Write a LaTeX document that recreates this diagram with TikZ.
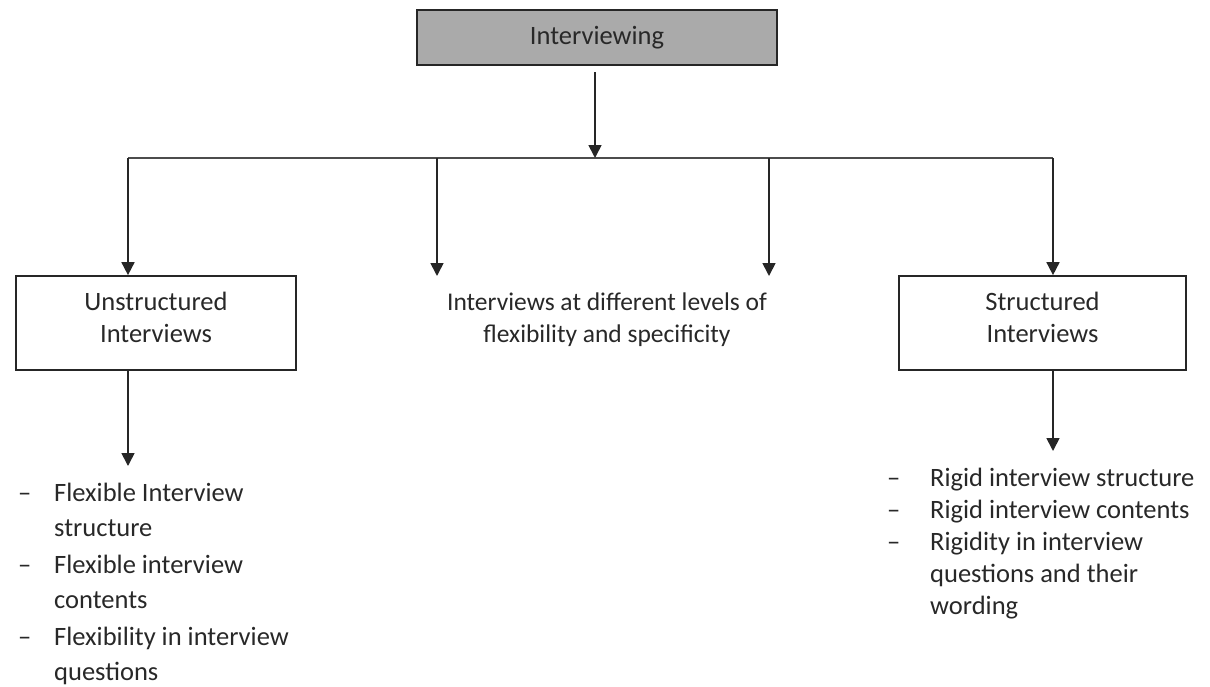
\documentclass[tikz,border=0pt]{standalone}
\usepackage{fontspec}
\setmainfont{Carlito}
\usetikzlibrary{arrows.meta}
\definecolor{boxgray}{RGB}{170,170,170}
\definecolor{txt}{RGB}{40,40,40}
\newcommand{\lines}[1]{\begin{tabular}[t]{@{}l@{}}#1\end{tabular}}
\newcommand{\boxlines}[1]{\raisebox{0pt}[\height][\dimexpr\depth+6pt\relax]{\begin{tabular}{@{}c@{}}#1\end{tabular}}}
\begin{document}
\begin{tikzpicture}[x=1pt,y=-1pt,
  every node/.style={font=\fontsize{26.5}{32}\selectfont, text=txt},
  box/.style={draw=black!85, line width=1.7pt, minimum height=94pt, align=center, inner sep=0pt},
  arr/.style={line width=1.7pt, draw=black!85, -{Triangle[width=13pt,length=13pt]}},
  ln/.style={line width=1.7pt, draw=black!70},
  dashnode/.style={anchor=base west, inner sep=0pt},
  item/.style={anchor=base west, inner sep=0pt},
  litem/.style={anchor=base west, inner sep=0pt, font=\fontsize{26.5}{35}\selectfont}
]
\useasboundingbox (0,0) rectangle (1210,686);

% top
\node[box, fill=boxgray, minimum width=360pt, minimum height=55pt] (top) at (597,37.5) {Interviewing};

% branch line
\coordinate (h1) at (128,158);
\coordinate (h2) at (437,158);
\coordinate (h3) at (769,158);
\coordinate (h4) at (1053,158);
\coordinate (hc) at (595,158);
\draw[ln] (h1) -- (h4);
\coordinate (ts) at (595,72);
\draw[arr] (ts) -- (hc);

% boxes
\node[box, minimum width=280pt] (uns) at (156,323) {\boxlines{Unstructured\\Interviews}};
\node[box, minimum width=287pt] (str) at (1042.5,323) {\boxlines{Structured\\Interviews}};
\node[inner sep=0pt, align=center, font=\fontsize{25.5}{32}\selectfont] (mid) at (607,320) {Interviews at different levels of\\flexibility and specificity};
\coordinate (m1) at (437,276);
\coordinate (m2) at (769,276);

\draw[arr] (h1) -- (h1 |- uns.north);
\draw[arr] (h4) -- (h4 |- uns.north);
\draw[arr] (h2) -- (m1);
\draw[arr] (h3) -- (m2);

% lower arrows
\coordinate (le) at (128,466);
\coordinate (re) at (1053,451);
\draw[arr] (uns.south -| le) -- (le);
\draw[arr] (str.south -| re) -- (re);

% left list
\node[dashnode] (ld1) at (18,501) {--};
\node[litem] (li1) at (54,501) {\lines{Flexible Interview\\structure}};
\node[dashnode] (ld2) at (18,573) {--};
\node[litem] (li2) at (54,573) {\lines{Flexible interview\\contents}};
\node[dashnode] (ld3) at (18,645) {--};
\node[litem] (li3) at (54,645) {\lines{Flexibility in interview\\questions}};

% right list
\node[dashnode] (rd1) at (887,486) {--};
\node[item] (ri1) at (930,486) {Rigid interview structure};
\node[dashnode] (rd2) at (887,518) {--};
\node[item] (ri2) at (930,518) {Rigid interview contents};
\node[dashnode] (rd3) at (887,550) {--};
\node[item] (ri3) at (930,550) {\lines{Rigidity in interview\\questions and their\\wording}};
\end{tikzpicture}
\end{document}
